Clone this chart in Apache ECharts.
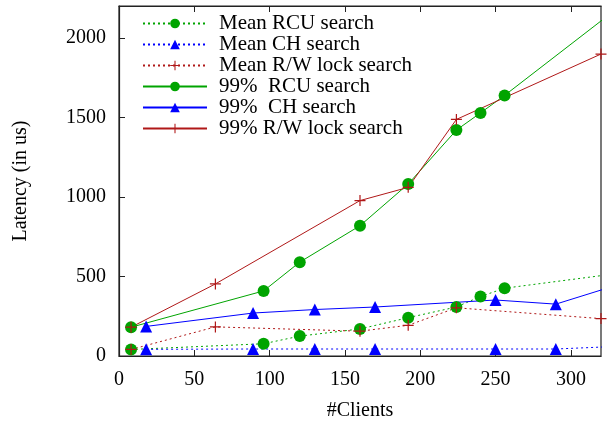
<!DOCTYPE html>
<html>
<head>
<meta charset="utf-8">
<script src="https://cdn.jsdelivr.net/npm/echarts@6/dist/echarts.min.js"></script>
<style>
  html, body { margin: 0; padding: 0; background: #fff; }
  #chart { width: 610px; height: 426px; }
</style>
</head>
<body>
<div id="chart"></div>
<script>
// Client counts sampled for each implementation
const rcuClients = [8, 96, 120, 160, 192, 224, 240, 256, 384];
const chClients  = [18, 89, 130, 170, 250, 290, 330];
const rwClients  = [8, 64, 160, 192, 224, 320];

// Latencies in microseconds
const meanRcu = [41, 77, 125, 170, 241, 308, 374, 426, 584];
const meanCh  = [42, 44, 44, 44, 44, 44, 60];
const meanRw  = [41, 183, 156, 193, 303, 235];
const p99Rcu  = [181, 409, 590, 819, 1081, 1420, 1528, 1638, 2574];
const p99Ch   = [186, 270, 292, 308, 352, 326, 444];
const p99Rw   = [181, 453, 977, 1060, 1487, 1898];

const seriesNames = [
  'Mean RCU search', 'Mean CH search', 'Mean R/W lock search',
  '99%  RCU search', '99%  CH search', '99% R/W lock search'
];

// Axis ticks
const xTicks = [0, 50, 100, 150, 200, 250, 300];
const yTicks = [0, 500, 1000, 1500, 2000];

const pair = (xs, ys) => xs.map((x, i) => [x, ys[i]]);

const GREEN = '#00a400';
const BLUE = '#0000ff';
const RED = '#b01818';
const FONT = 'Liberation Serif';
const PLUS = 'path://M4.45,0h1.1v4.45h4.45v1.1h-4.45v4.45h-1.1v-4.45h-4.45v-1.1h4.45z';

function makeSeries(name, data, color, dotted, symbol, size) {
  return {
    name: name,
    type: 'line',
    data: data,
    symbol: symbol,
    symbolSize: size,
    showAllSymbol: true,
    clip: true,
    animation: false,
    lineStyle: { color: color, width: 1, type: dotted ? [2, 3] : 'solid' },
    itemStyle: { color: color },
    emphasis: { disabled: true }
  };
}

const chart = echarts.init(document.getElementById('chart'), null, { renderer: 'canvas' });

chart.setOption({
  animation: false,
  backgroundColor: '#fff',
  grid: {
    left: 119, right: 9, top: 6, bottom: 68,
    show: true, borderColor: '#222', borderWidth: 1.2
  },
  legend: {
    orient: 'vertical',
    left: 137, top: 8,
    itemWidth: 64, itemHeight: 12, itemGap: 0,
    textStyle: { fontFamily: FONT, fontSize: 21, color: '#000', lineHeight: 21, padding: [0, 0, 0, 7] },
    data: seriesNames
  },
  xAxis: [{
    type: 'value', min: 0, max: 320, position: 'bottom',
    name: '#Clients', nameLocation: 'middle', nameGap: 45,
    nameTextStyle: { fontFamily: FONT, fontSize: 20, color: '#000' },
    axisLine: { show: true, lineStyle: { color: '#222', width: 1.2 } },
    axisTick: { show: true, inside: true, length: 6, customValues: xTicks, lineStyle: { color: '#222' } },
    axisLabel: { customValues: xTicks, margin: 14, fontFamily: FONT, fontSize: 20, color: '#000',
                 formatter: v => String(v) },
    splitLine: { show: false }
  }, {
    type: 'value', min: 0, max: 320, position: 'top',
    axisLine: { show: true, lineStyle: { color: '#222', width: 1.2 } },
    axisTick: { show: true, inside: true, length: 6, customValues: xTicks, lineStyle: { color: '#222' } },
    axisLabel: { show: false },
    splitLine: { show: false }
  }],
  yAxis: {
    type: 'value', min: 0, max: 2200,
    name: 'Latency (in us)', nameLocation: 'middle', nameRotate: 90, nameGap: 88,
    nameTextStyle: { fontFamily: FONT, fontSize: 20, color: '#000' },
    axisLine: { show: true, lineStyle: { color: '#222', width: 1.2 } },
    axisTick: { show: true, inside: true, length: 6, customValues: yTicks, lineStyle: { color: '#222' } },
    axisLabel: { customValues: yTicks, margin: 13, fontFamily: FONT, fontSize: 20, color: '#000',
                 formatter: v => String(v) },
    splitLine: { show: false }
  },
  series: [
    makeSeries(seriesNames[0], pair(rcuClients, meanRcu), GREEN, true, 'circle', 12),
    makeSeries(seriesNames[1], pair(chClients, meanCh), BLUE, true, 'triangle', 12),
    makeSeries(seriesNames[2], pair(rwClients, meanRw), RED, true, PLUS, 11),
    makeSeries(seriesNames[3], pair(rcuClients, p99Rcu), GREEN, false, 'circle', 12),
    makeSeries(seriesNames[4], pair(chClients, p99Ch), BLUE, false, 'triangle', 12),
    makeSeries(seriesNames[5], pair(rwClients, p99Rw), RED, false, PLUS, 11)
  ]
});
</script>
</body>
</html>
